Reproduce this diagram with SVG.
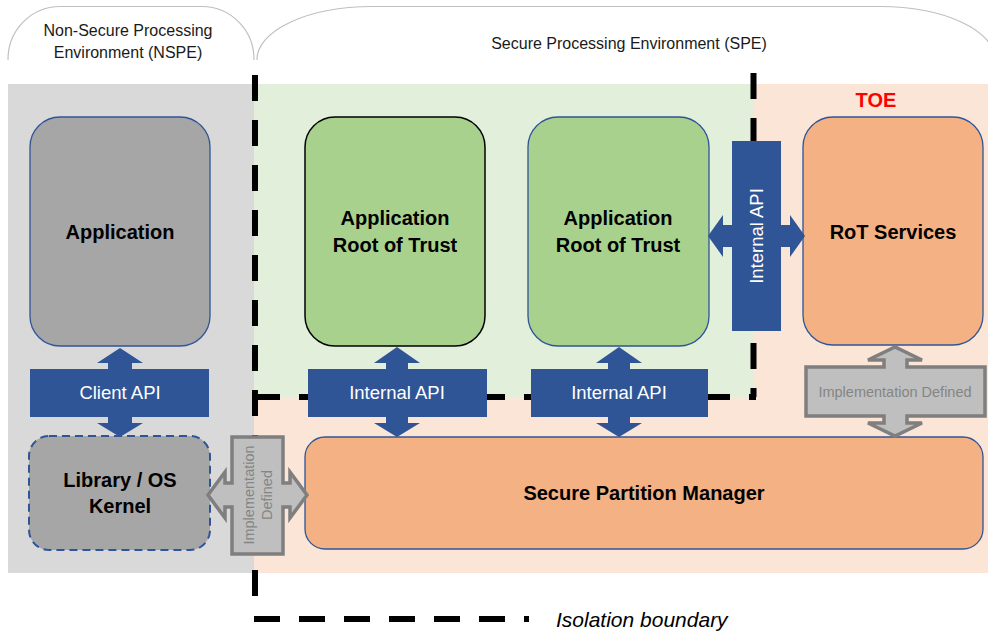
<svg xmlns="http://www.w3.org/2000/svg" width="988" height="631" viewBox="0 0 988 631">
  <defs>
    <style>
      text { font-family: "Liberation Sans", Arial, sans-serif; text-anchor: middle; }
      .env { font-size: 16px; fill: #1a1a1a; }
      .brace { fill: none; stroke: #bfbfbf; stroke-width: 1.2; }
      .boundary { fill: none; stroke: #000; stroke-width: 6; stroke-dasharray: 26 19; }
      .node { stroke: #2f5597; stroke-width: 1.3; }
      .title { font-size: 20px; font-weight: bold; fill: #000; }
      .grey { fill: #a6a6a6; }
      .green { fill: #a9d18e; }
      .orange { fill: #f4b183; }
      .api { fill: #2f5597; stroke: none; }
      .api-label { font-size: 18.5px; fill: #fff; }
      .impl { fill: #bfbfbf; stroke: #7f7f7f; stroke-width: 3.5; stroke-linejoin: miter; }
      .impl-label { font-size: 14.5px; fill: #858585; }
    </style>
  </defs>

  <rect width="988" height="631" fill="#fff"/>

  <!-- environment brackets and headings -->
  <g id="env-headings">
    <path class="brace" d="M8,60 A52,53 0 0 1 60,6.5 H202 A52,53 0 0 1 254,60"/>
    <path class="brace" d="M257,60 A115,53 0 0 1 372,6.5 H880 A115,53 0 0 1 995,60"/>
    <text class="env" x="128" y="36">Non-Secure Processing</text>
    <text class="env" x="128" y="58">Environment (NSPE)</text>
    <text class="env" x="629" y="49">Secure Processing Environment (SPE)</text>
  </g>

  <!-- background regions -->
  <g id="regions">
    <rect x="8" y="84" width="246" height="489" fill="#d9d9d9"/>
    <rect x="254" y="84" width="734" height="489" fill="#fbe5d6"/>
    <rect x="254" y="84" width="500" height="313" fill="#e2efda"/>
    <text x="876" y="107" style="font-size:20px;font-weight:bold;fill:#ff0000">TOE</text>
  </g>

  <!-- isolation boundaries -->
  <g id="boundaries">
    <path class="boundary" d="M255,75 V600"/>
    <path class="boundary" d="M753.5,73 V397"/>
    <path class="boundary" d="M254,397 H756"/>
  </g>

  <!-- nodes -->
  <g id="application">
    <rect class="node grey" x="30" y="117" width="180" height="229" rx="30"/>
    <text class="title" x="120" y="239">Application</text>
  </g>
  <g id="library-kernel">
    <rect class="grey" x="29" y="436" width="181" height="114" rx="20" stroke="#2f5597" stroke-width="2" stroke-dasharray="8 5"/>
    <text class="title" x="120" y="487">Library / OS</text>
    <text class="title" x="120" y="513">Kernel</text>
  </g>
  <g id="app-rot-1">
    <rect class="green" x="305" y="117" width="180" height="229" rx="30" stroke="#000" stroke-width="1.5"/>
    <text class="title" x="395" y="225">Application</text>
    <text class="title" x="395" y="252">Root of Trust</text>
  </g>
  <g id="app-rot-2">
    <rect class="node green" x="528" y="117" width="181" height="229" rx="30"/>
    <text class="title" x="618" y="225">Application</text>
    <text class="title" x="618" y="252">Root of Trust</text>
  </g>
  <g id="rot-services">
    <rect class="node orange" x="803" y="117" width="180" height="228" rx="30"/>
    <text class="title" x="893" y="239">RoT Services</text>
  </g>
  <g id="spm">
    <rect class="node orange" x="305" y="437" width="678" height="112" rx="20"/>
    <text class="title" x="644" y="500">Secure Partition Manager</text>
  </g>

  <!-- connectors -->
  <g id="connectors">
    <g id="client-api">
      <path class="api" d="M30,369 H108 V363 H97 L120,348 L143,363 H132 V369 H209 V417 H132 V423 H143 L120,437 L97,423 H108 V417 H30 Z"/>
      <text class="api-label" x="120" y="399">Client API</text>
    </g>
    <g id="internal-api-1">
      <path class="api" d="M308,369 H386 V363 H374 L397,347 L420,363 H408 V369 H487 V417 H408 V423 H420 L397,437 L374,423 H386 V417 H308 Z"/>
      <text class="api-label" x="397" y="399">Internal API</text>
    </g>
    <g id="internal-api-2">
      <path class="api" d="M531,369 H608 V363 H596 L619,347 L642,363 H630 V369 H708 V417 H630 V423 H642 L619,437 L596,423 H608 V417 H531 Z"/>
      <text class="api-label" x="619" y="399">Internal API</text>
    </g>
    <g id="internal-api-3">
      <path class="api" d="M732,141 H781 V225 H790 V215 L805,236 L790,257 V247 H781 V331 H732 V247 H723 V257 L708,236 L723,215 V225 H732 Z"/>
      <text class="api-label" transform="translate(756,236) rotate(-90)" x="0" y="6.5">Internal API</text>
    </g>
    <g id="impl-defined-rot">
      <path class="impl" d="M806,367 H884 V360 H868 L895,347 L922,360 H907 V367 H985 V416 H907 V423 H922 L895,436 L868,423 H884 V416 H806 Z"/>
      <text class="impl-label" x="895" y="397">Implementation Defined</text>
    </g>
    <g id="impl-defined-kernel">
      <path class="impl" d="M232,437 H283 V483 H290 V472 L307,495 L290,518 V507 H283 V554 H232 V507 H225 V518 L208,495 L225,472 V483 H232 Z"/>
      <text class="impl-label" transform="translate(258,495) rotate(-90)" x="0" y="-4">Implementation</text>
      <text class="impl-label" transform="translate(258,495) rotate(-90)" x="0" y="14">Defined</text>
    </g>
  </g>

  <!-- legend -->
  <g id="legend">
    <path class="boundary" d="M254,619 H529"/>
    <text x="556" y="627" style="font-size:21px;font-style:italic;text-anchor:start;fill:#000">Isolation boundary</text>
  </g>
</svg>
